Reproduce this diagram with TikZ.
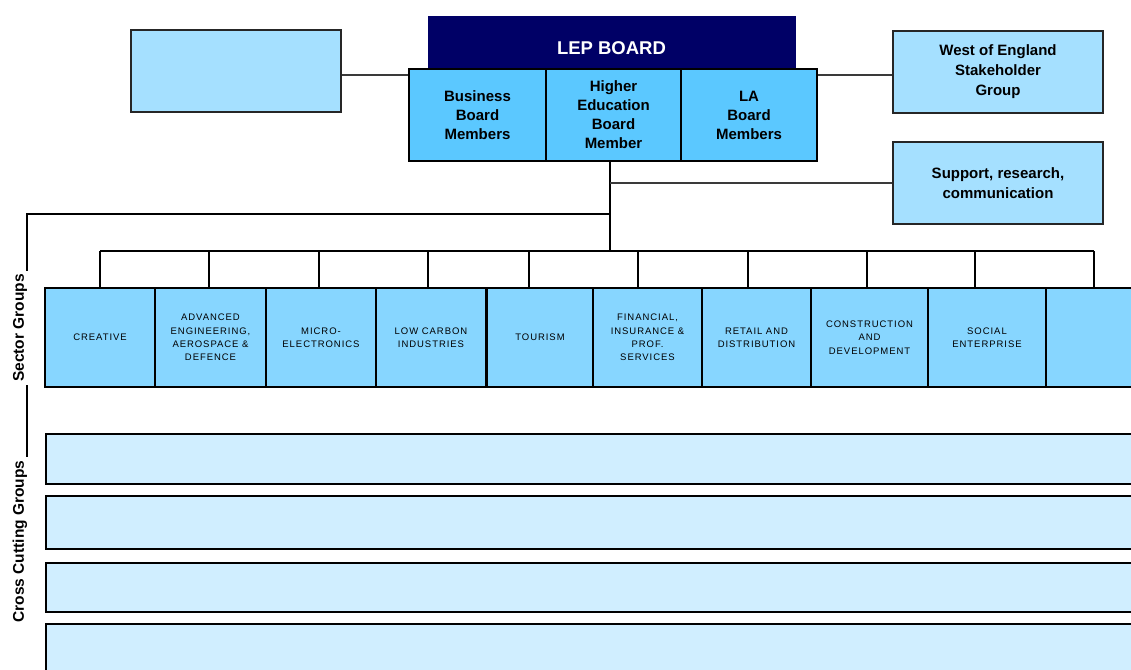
\documentclass[tikz,border=0pt]{standalone}
\usepackage{fontspec}
\usetikzlibrary{calc}
\setmainfont{Liberation Sans}
\newfontfamily\secfont[LetterSpace=10]{Liberation Sans}
\definecolor{paleblue}{HTML}{A5E0FF}
\definecolor{boardblue}{HTML}{5BC8FF}
\definecolor{sectorblue}{HTML}{87D6FF}
\definecolor{crossblue}{HTML}{D0EEFF}
\definecolor{navy}{HTML}{000066}
\definecolor{lineg}{HTML}{3A3A3A}
\begin{document}
\begin{tikzpicture}[x=1pt,y=-1pt,
  sidebox/.style={draw=black!85, line width=1.6pt, fill=paleblue, inner sep=0pt,
    minimum width=210pt, minimum height=82pt, align=center,
    font=\fontsize{15}{20}\selectfont\bfseries},
  boardbox/.style={draw=black, line width=2.2pt, fill=boardblue, inner sep=0pt,
    minimum height=92pt, align=center, font=\fontsize{15}{19}\selectfont\bfseries},
  sectorbox/.style={draw=black, line width=2pt, fill=sectorblue, inner sep=0pt,
    minimum height=99pt, align=center, font=\fontsize{9.5}{13.3}\secfont},
  crossbar/.style={draw=black, line width=2pt, fill=crossblue, inner sep=0pt,
    minimum width=1095pt, anchor=west},
  grouplabel/.style={rotate=90, fill=white, inner xsep=3pt, inner ysep=0pt,
    font=\fontsize{15.5}{16}\selectfont\bfseries},
  conn/.style={draw=lineg, line width=1.5pt},
  busline/.style={draw=black, line width=2pt}]
\useasboundingbox (0,0) rectangle (1131,669);
\clip (0,0) rectangle (1131,669);

% top row
\node[sidebox] (blank) at (236,71) {};
\node[draw=navy, fill=navy, minimum width=367pt, minimum height=52pt, inner sep=0pt,
  label={[text=white, font=\fontsize{18.5}{20}\selectfont\bfseries, yshift=-6pt]center:LEP BOARD}]
  (lep) at (611.5,42) {};
\node[boardbox, minimum width=137pt] (biz) at (477.5,115) {Business\\Board\\Members};
\node[boardbox, minimum width=135pt] (he) at (613.5,115) {Higher\\Education\\Board\\Member};
\node[boardbox, minimum width=136pt] (la) at (749,115) {LA\\Board\\Members};
\node[sidebox] (woe) at (998,72) {West of England\\Stakeholder\\Group};
\node[sidebox] (sup) at (998,183) {Support, research,\\communication};

% sector groups
\node[sectorbox, minimum width=110pt] (s1) at (100,337.5) {CREATIVE};
\node[sectorbox, minimum width=111pt] (s2) at (210.5,337.5) {ADVANCED\\ENGINEERING,\\AEROSPACE \&\\DEFENCE};
\node[sectorbox, minimum width=110pt] (s3) at (321,337.5) {MICRO-\\ELECTRONICS};
\node[sectorbox, minimum width=110.5pt] (s4) at (431,337.5) {LOW CARBON\\INDUSTRIES};
\node[sectorbox, minimum width=106.5pt] (s5) at (540,337.5) {TOURISM};
\node[sectorbox, minimum width=109pt] (s6) at (647.5,337.5) {FINANCIAL,\\INSURANCE \&\\PROF.\\SERVICES};
\node[sectorbox, minimum width=109pt] (s7) at (756.5,337.5) {RETAIL AND\\DISTRIBUTION};
\node[sectorbox, minimum width=117pt] (s8) at (869.5,337.5) {CONSTRUCTION\\AND\\DEVELOPMENT};
\node[sectorbox, minimum width=118pt] (s9) at (987,337.5) {SOCIAL\\ENTERPRISE};
\node[sectorbox, minimum width=110pt] (s10) at (1101,337.5) {};

% cross cutting groups
\node[crossbar, minimum height=50pt] (c1) at (45,459) {};
\node[crossbar, minimum height=53pt] (c2) at (45,522.5) {};
\node[crossbar, minimum height=49pt] (c3) at (45,587.5) {};
\node[crossbar, minimum height=60pt] (c4) at (45,654) {};

% side labels
\node[grouplabel] (lsec) at (20,328) {Sector Groups};
\node[grouplabel] (lcross) at (20,541.5) {Cross Cutting Groups};

% connectors at the top
\coordinate (bl) at ($(blank.east)+(0,4)$);
\draw[conn] (bl) -- (bl -| biz.west);
\coordinate (wl) at ($(woe.west)+(0,3)$);
\draw[conn] (wl -| la.east) -- (wl);
\coordinate (tA) at (610,161);
\coordinate (tS) at (610,183);
\coordinate (tL) at (610,214);
\coordinate (tB) at (610,251);
\coordinate (lb) at (27,214);
\draw[busline] (tA) -- (tB);
\draw[conn] (tS) -- (sup.west |- tS);
\draw[busline] (tL) -- (lb) -- (lb |- lsec.east);
\draw[busline] (lsec.west -| lb) -- (lcross.east -| lb);

% bus to sector groups
\foreach \i/\xx in {1/100,2/209,3/319,4/428,5/529,6/638,7/748,8/867,9/975,10/1094}{
  \coordinate (d\i) at (\xx,251);
}
\draw[busline] (d1) -- (d10);
\foreach \i in {1,...,10}{
  \draw[busline] (d\i) -- (d\i |- s\i.north);
}
\end{tikzpicture}
\end{document}
